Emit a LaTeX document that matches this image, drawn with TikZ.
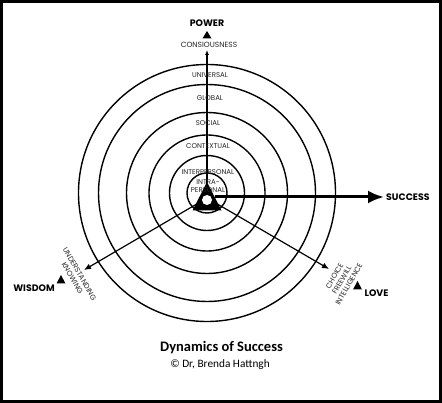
\documentclass[tikz,border=0pt]{standalone}
\usepackage{fontspec}
\setmainfont{Poppins}
\newfontfamily\titlefont{Carlito}
\usetikzlibrary{arrows.meta}
\begin{document}
\begin{tikzpicture}[x=1pt,y=-1pt,
  ring/.style={draw=black,line width=1.4pt},
  ringlabel/.style={font=\fontsize{7}{7}\selectfont,text=black!85,inner sep=0pt},
  axislabel/.style={font=\bfseries\fontsize{9.4}{10}\selectfont,inner sep=0pt},
  sidelabel/.style={font=\fontsize{7.3}{8.3}\selectfont,text=black!85,align=center,inner sep=0pt},
  marker/.style={fill=black},
  ray/.style={draw=black,line width=1.2pt}]
\useasboundingbox (0,0) rectangle (442,403);
\fill[white] (0,0) rectangle (442,403);
\draw[line width=3pt] (1.5,1.5) rectangle (440.5,401.5);

\coordinate (c) at (207,193);
\coordinate (tri) at (207,198);
\foreach \r in {20,37.5,58,80.5,108.5,128.5}{
  \draw[ring] (c) circle[radius=\r];
}

% rays
\coordinate (powertip) at (207,50);
\coordinate (successtip) at (384,197);
\coordinate (successstart) at (215,197);
\coordinate (wisdomtip) at (84,270);
\coordinate (lovetip) at (329,269);
\draw[ray,-{Latex[length=5pt,width=4pt]}] (tri) -- (powertip);
\draw[draw=black,line width=3pt,-{Latex[length=16pt,width=13pt]}] (successstart) -- (successtip);
\draw[ray,-{Latex[length=7pt,width=6pt]}] (tri) -- (wisdomtip);
\draw[ray,-{Latex[length=7pt,width=6pt]}] (tri) -- (lovetip);

% center triangle
\fill[black] (207,182) -- (192.5,210.5) -- (221.5,210.5) -- cycle;
\fill[white] (207,200) circle[radius=5];

% ring labels
\node[ringlabel] (l1) at (210,75) {UNIVERSAL};
\node[ringlabel] (l2) at (210,98) {GLOBAL};
\node[ringlabel] (l3) at (208,123) {SOCIAL};
\node[ringlabel] (l4) at (208,146) {CONTEXTUAL};
\node[ringlabel] (l5) at (208,172) {INTERPERSONAL};
\node[ringlabel] (l6) at (208,182.5) {INTRA-};
\node[ringlabel] (l7) at (208,190) {PERSONAL};

% POWER
\node[axislabel] (power) at (207,23.5) {POWER};
\fill[marker] (202.5,38.5) -- (211.5,38.5) -- (207,31) -- cycle;
\node[ringlabel,font=\fontsize{7.5}{8}\selectfont] (consc) at (209,45) {CONSIOUSNESS};

% SUCCESS
\node[axislabel,anchor=west] (success) at (386,197) {SUCCESS};

% WISDOM
\node[axislabel] (wisdom) at (34,288) {WISDOM};
\fill[marker] (56.5,283.5) -- (65.5,283.5) -- (61,275) -- cycle;
\node[sidelabel,rotate=-60] (wl) at (76,276) {UNDERSTANDING\\KNOWING};

% LOVE
\node[axislabel] (love) at (376.5,293) {LOVE};
\fill[marker] (353,289.5) -- (362,289.5) -- (357.5,281) -- cycle;
\node[sidelabel,rotate=60] (ll) at (341.7,280) {CHOICE\\FREEWILL\\INTELLIGENCE};

% title
\node[font=\titlefont\bfseries\fontsize{14.5}{16}\selectfont,inner sep=0pt] (title) at (221.5,348) {Dynamics of Success};
\node[font=\titlefont\fontsize{11.3}{13}\selectfont,inner sep=0pt] (author) at (220,365) {© Dr, Brenda Hattngh};
\end{tikzpicture}
\end{document}
